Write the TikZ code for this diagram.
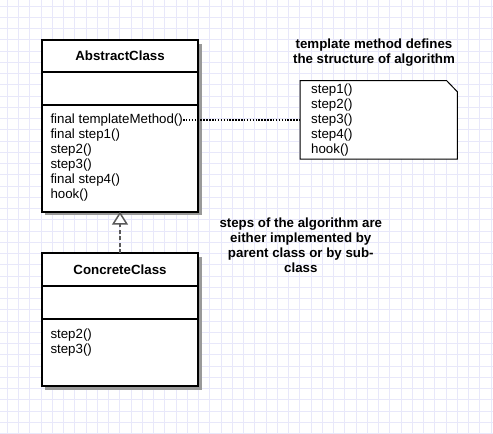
\documentclass[tikz,border=0pt]{standalone}
\usepackage{fontspec}
\setmainfont{Liberation Sans}
\usetikzlibrary{arrows.meta,calc}
\definecolor{gridc}{RGB}{232,232,250}
\pgfdeclarelayer{bg}
\pgfsetlayers{bg,main}
\begin{document}
\begin{tikzpicture}[x=1pt,y=-1pt,
  mfont/.style={font=\fontsize{13.3}{14.9}\selectfont, inner sep=0pt},
  bfont/.style={font=\bfseries\fontsize{13.3}{14.9}\selectfont, inner sep=0pt},
  classbox/.style={draw, line width=2pt, fill=white, outer sep=0pt, anchor=north west},
  shadowc/.style={fill=black!40},
  sep/.style={line width=2pt},
  dotline/.style={line width=2pt, dash pattern=on 1.5pt off 1.4pt},
  inherit/.style={black!65, line width=1.5pt, dash pattern=on 4pt off 2.5pt,
    -{Triangle[open, length=13pt, width=16pt, fill=white]}}]
\useasboundingbox (0,0) rectangle (493,434);
\begin{pgfonlayer}{bg}
\fill[white] (0,0) rectangle (493,434);
\foreach \i in {0,...,43} \draw[gridc, line width=0.8pt] ({7.3+\i*11.25},0) -- ({7.3+\i*11.25},434);
\foreach \j in {0,...,38} \draw[gridc, line width=0.8pt] (0,{6+\j*11.25}) -- (493,{6+\j*11.25});
\end{pgfonlayer}

% AbstractClass
\node[classbox, minimum width=156.6pt, minimum height=171.7pt] (abs) at (41.7,40) {};
\draw[sep] ($(abs.north west)+(0,32.3)$) -- ($(abs.north east)+(0,32.3)$);
\draw[sep] ($(abs.north west)+(0,65.3)$) -- ($(abs.north east)+(0,65.3)$);
\node[bfont, anchor=base] (absT) at (120,60) {AbstractClass};
\foreach \t [count=\i from 0] in {final templateMethod(), final step1(), step2(), step3(), final step4(), hook()}
  \node[mfont, anchor=base west] (am\i) at (50.3,{123.9+\i*14.9}) {\t};

% ConcreteClass
\node[classbox, minimum width=156.6pt, minimum height=132.7pt] (con) at (41.7,253.3) {};
\draw[sep] ($(con.north west)+(0,32.7)$) -- ($(con.north east)+(0,32.7)$);
\draw[sep] ($(con.north west)+(0,65.7)$) -- ($(con.north east)+(0,65.7)$);
\node[bfont, anchor=base] (conT) at (120,274) {ConcreteClass};
\foreach \t [count=\i from 0] in {step2(), step3()}
  \node[mfont, anchor=base west] (cm\i) at (50.3,{338.9+\i*14.9}) {\t};

% shadows
\begin{pgfonlayer}{bg}
\fill[shadowc] ($(abs.north west)+(3.5,3.5)$) rectangle ($(abs.south east)+(3.5,3.5)$);
\fill[shadowc] ($(con.north west)+(3.5,3.5)$) rectangle ($(con.south east)+(3.5,3.5)$);
\end{pgfonlayer}

% Note
\node[minimum width=157.3pt, minimum height=78.3pt, anchor=north west, outer sep=0pt, inner sep=0pt] (note) at (300,80.7) {};
\draw[line width=1pt, fill=white] (note.north west) -- ($(note.north east)+(-10.6,0)$) -- ($(note.north east)+(0,11)$) -- (note.south east) -- (note.south west) -- cycle;
\foreach \t [count=\i from 0] in {step1(), step2(), step3(), step4(), hook()}
  \node[mfont, anchor=base west] (nm\i) at (311,{93.9+\i*14.8}) {\t};

% Connectors
\draw[dotline] (am0.east) -- (am0.east -| note.west);
\draw[inherit] (con.north) -- (abs.south);

% Texts (base anchor = last line)
\node[bfont, align=center, anchor=base] (nt) at (374,63.1) {template method defines\\the structure of algorithm};
\node[bfont, align=center, anchor=base] (st) at (300.8,272.3) {steps of the algorithm are\\either implemented by\\parent class or by sub-\\class};
\end{tikzpicture}
\end{document}
